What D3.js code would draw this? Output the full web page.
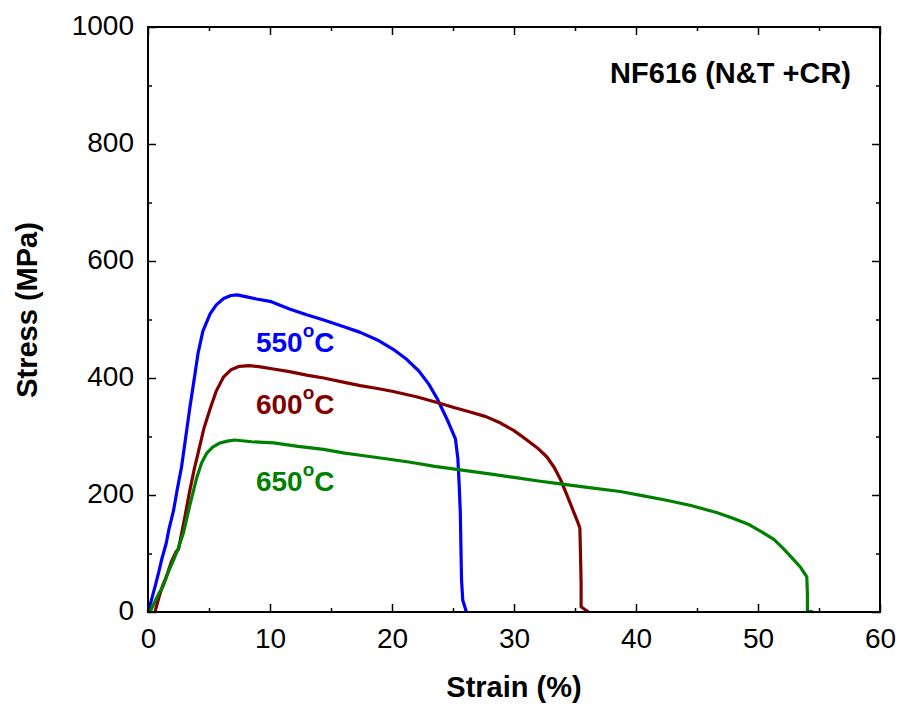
<!DOCTYPE html>
<html><head><meta charset="utf-8">
<script src="https://cdn.jsdelivr.net/npm/d3@7"></script>
<style>body{margin:0;background:#fff}svg{display:block}text{font-family:"Liberation Sans",Arial,sans-serif}</style>
</head><body><svg id="c" width="899" height="707"></svg>
<script>
const xTicks = [0,10,20,30,40,50,60];
const yTicks = [0,200,400,600,800,1000];
const seriesNames = ["550","600","650"];
const seriesColors = ["#0000ff","#800000","#008000"];
const curve550 = [[0,0],[0.3,22],[0.6,45],[0.9,70],[1.1,88],[1.26,100],[1.5,118],[1.7,140],[2.1,174],[2.4,210],[2.75,248],[3.1,300],[3.44,351],[3.8,400],[4.1,442],[4.5,480],[5.1,510],[5.6,525],[6.2,536],[6.8,541],[7.3,542],[8.0,539],[8.9,535],[10,531],[11.6,518],[13,508],[14.4,499],[16,488],[17.4,478],[18.8,465],[20.1,449],[21.2,432],[22.2,412],[23,390],[23.7,365],[24.5,330],[25.2,296],[25.4,262],[25.5,220],[25.6,170],[25.65,110],[25.7,55],[25.8,20],[26.1,0]];
const curve600 = [[0.57,0],[0.9,25],[1.2,45],[1.5,60],[1.9,85],[2.3,103],[2.5,107],[2.6,118],[3.0,160],[3.4,205],[3.8,245],[4.1,271],[4.6,315],[5.1,348],[5.6,378],[6.2,402],[6.8,414],[7.5,420],[8.3,421],[9.2,419],[10.4,415],[11.6,411],[13,405],[14.4,400],[16,393],[17.4,387],[18.8,382],[20.1,377],[22,368],[23.7,358],[25,350],[26.4,342],[27.7,334],[28.9,323],[30,310],[31,295],[32,279],[32.7,265],[33.3,247],[33.8,227],[34.3,202],[34.8,176],[35.2,155],[35.4,143],[35.45,100],[35.5,50],[35.5,9],[36.1,0]];
const curve650 = [[0.16,0],[0.5,15],[0.9,32],[1.26,45],[1.6,65],[2.1,89],[2.5,110],[2.9,135],[3.4,180],[4.0,230],[4.4,255],[4.8,271],[5.3,282],[5.9,289],[6.5,292],[7.1,294],[8.5,291],[10.3,289],[12.3,283],[14.4,278],[16,272],[17.4,268],[19.5,262],[21.5,256],[23.5,249],[25.6,243],[28,236],[30,230],[32,224],[33.8,219],[36,213],[38.7,206],[40.5,199],[42.5,191],[44.5,182],[46.6,170],[48,160],[49.3,149],[50.3,137],[51.3,124],[52.1,108],[52.9,90],[53.5,76],[54.0,60],[54.05,30],[54.05,3],[54.5,0]];
const labelAnchors = [[8.85,444],[8.85,338],[8.85,207]];

const svg = d3.select("#c");
const L=148,R=880,T=27,B=612;
const x = d3.scaleLinear().domain([0,60]).range([L,R]);
const y = d3.scaleLinear().domain([0,1000]).range([B,T]);
const g = svg.append("g");

const lineRaw = d3.line().x(d=>x(d[0])).y(d=>y(d[1]));
[curve550,curve600,curve650].forEach((c,i)=>{
  g.append("path").datum(c).attr("d",lineRaw).attr("fill","none")
   .attr("stroke",seriesColors[i]).attr("stroke-width",3.2).attr("stroke-linejoin","round");
});

function styleAxis(sel){sel.select(".domain").remove();sel.selectAll("line").attr("stroke","#000").attr("stroke-width",1.5);}
const xMinor = d3.range(5,60,10), yMinor = d3.range(100,1000,200);
const xb = svg.append("g").attr("transform",`translate(0,${B})`)
  .call(d3.axisBottom(x).tickValues(xTicks).tickSize(-8).tickPadding(16).tickFormat(d3.format("d")));
styleAxis(xb);
xb.selectAll("text").attr("font-size",28).attr("fill","#000");
svg.append("g").attr("transform",`translate(0,${B})`).call(d3.axisBottom(x).tickValues(xMinor).tickSize(-4).tickFormat("")).call(styleAxis);
svg.append("g").attr("transform",`translate(0,${T})`).call(d3.axisTop(x).tickValues(xTicks).tickSize(-8).tickFormat("")).call(styleAxis);
svg.append("g").attr("transform",`translate(0,${T})`).call(d3.axisTop(x).tickValues(xMinor).tickSize(-4).tickFormat("")).call(styleAxis);
const yl = svg.append("g").attr("transform",`translate(${L},0)`)
  .call(d3.axisLeft(y).tickValues(yTicks).tickSize(-8).tickPadding(14).tickFormat(d3.format("d")));
styleAxis(yl);
yl.selectAll("text").attr("font-size",28).attr("fill","#000").attr("dy","0.28em");
svg.append("g").attr("transform",`translate(${L},0)`).call(d3.axisLeft(y).tickValues(yMinor).tickSize(-4).tickFormat("")).call(styleAxis);
svg.append("g").attr("transform",`translate(${R},0)`).call(d3.axisRight(y).tickValues(yTicks).tickSize(-8).tickFormat("")).call(styleAxis);
svg.append("g").attr("transform",`translate(${R},0)`).call(d3.axisRight(y).tickValues(yMinor).tickSize(-4).tickFormat("")).call(styleAxis);

svg.append("rect").attr("x",L).attr("y",T).attr("width",R-L).attr("height",B-T)
  .attr("fill","none").attr("stroke","#000").attr("stroke-width",2);

svg.append("text").attr("x",(L+R)/2).attr("y",697).attr("text-anchor","middle")
  .attr("font-size",29).attr("font-weight","bold").text("Strain (%)");
svg.append("text").attr("transform",`translate(37,310) rotate(-90)`).attr("text-anchor","middle")
  .attr("font-size",29).attr("font-weight","bold").text("Stress (MPa)");

svg.append("text").attr("x",851).attr("y",83).attr("text-anchor","end")
  .attr("font-size",29).attr("font-weight","bold").text("NF616 (N&T +CR)");

seriesNames.forEach((n,i)=>{
  const t = svg.append("text").attr("x",x(labelAnchors[i][0])).attr("y",y(labelAnchors[i][1]))
    .attr("font-size",28).attr("font-weight","bold").attr("fill",seriesColors[i]);
  t.append("tspan").text(n);
  t.append("tspan").attr("dy",-15).attr("font-size",19).text("o");
  t.append("tspan").attr("dy",15).text("C");
});
</script></body></html>
